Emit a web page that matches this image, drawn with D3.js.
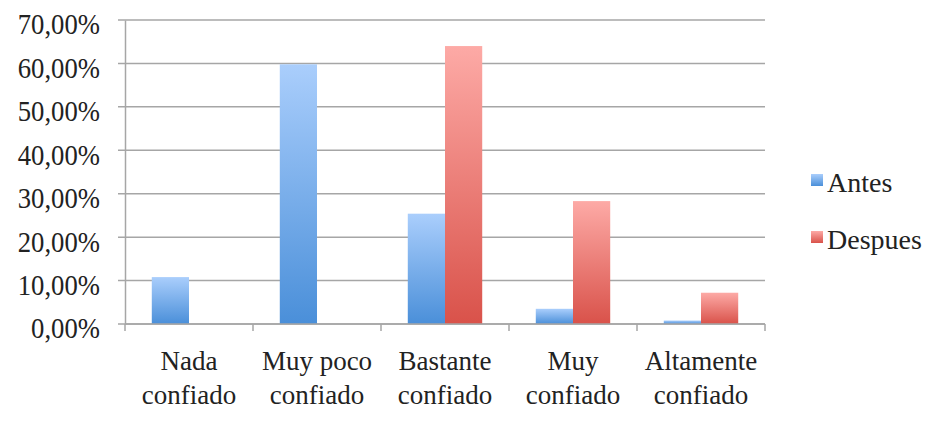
<!DOCTYPE html>
<html>
<head>
<meta charset="utf-8">
<script src="https://cdn.jsdelivr.net/npm/d3@7"></script>
<style>
  body { margin: 0; background: #fff; }
  text { font-family: "Liberation Serif", serif; fill: #222; }
</style>
</head>
<body>
<div id="chart"></div>
<script>
// data
var categories = [["Nada", "confiado"], ["Muy poco", "confiado"], ["Bastante", "confiado"], ["Muy", "confiado"], ["Altamente", "confiado"]];
var seriesNames = ["Antes", "Despues"];
var antes = [0.108, 0.598, 0.254, 0.035, 0.008];
var despues = [0, 0, 0.640, 0.283, 0.072];
var yTicks = [0, 0.1, 0.2, 0.3, 0.4, 0.5, 0.6, 0.7];

var W = 942, H = 427;
var mLeft = 125, mRight = 765, mTop = 20, mBottom = 324;
var squeeze = 0.92;   // y labels are a narrow face in the original

var svg = d3.select("#chart").append("svg")
    .attr("width", W)
    .attr("height", H);

var defs = svg.append("defs");
var grads = [
    { id: "gAntes", top: "#aacefc", bot: "#4a8fd9" },
    { id: "gDespues", top: "#fdaaa6", bot: "#d9524a" }
];
grads.forEach(function (g) {
    var lg = defs.append("linearGradient").attr("id", g.id)
        .attr("x1", 0).attr("y1", 0).attr("x2", 0).attr("y2", 1);
    lg.append("stop").attr("offset", "0%").attr("stop-color", g.top);
    lg.append("stop").attr("offset", "100%").attr("stop-color", g.bot);
});

var x = d3.scaleBand()
    .domain(d3.range(categories.length))
    .range([mLeft, mRight])
    .paddingInner(0)
    .paddingOuter(0);

var x1 = d3.scaleBand()
    .domain(seriesNames)
    .range([0, x.bandwidth()])
    .paddingInner(0)
    .paddingOuter(0.72);

var y = d3.scaleLinear()
    .domain([0, 0.7])
    .range([mBottom, mTop]);

var fmt = function (d) { return (d * 100).toFixed(2).replace(".", ",") + "%"; };

// gridlines
svg.append("g")
    .selectAll("line")
    .data(yTicks)
    .enter().append("line")
    .attr("x1", mLeft - 7)
    .attr("x2", mRight)
    .attr("y1", function (d) { return y(d); })
    .attr("y2", function (d) { return y(d); })
    .attr("stroke", "#a6a6a6")
    .attr("stroke-width", 1.5);

// y axis
var yAxis = d3.axisLeft(y).tickValues(yTicks).tickFormat(fmt).tickSize(0);
var gy = svg.append("g").attr("transform", "translate(" + mLeft + ",0)").call(yAxis);
gy.select(".domain").attr("stroke", "#a6a6a6").attr("stroke-width", 1.5);
gy.selectAll("text")
    .style("font-size", "29px")
    .style("font-family", "Liberation Serif")
    .attr("fill", "#222")
    .attr("x", -25 / squeeze)
    .attr("dy", "0.48em")
    .attr("transform", "scale(" + squeeze + ",1)");

// bars
var data = [antes, despues];
var groups = svg.append("g").selectAll("g")
    .data(categories)
    .enter().append("g")
    .attr("transform", function (d, i) { return "translate(" + x(i) + ",0)"; });

groups.selectAll("rect")
    .data(function (d, i) { return seriesNames.map(function (s, k) { return { s: s, v: data[k][i] }; }); })
    .enter().append("rect")
    .filter(function (d) { return d.v > 0; })
    .attr("x", function (d) { return x1(d.s); })
    .attr("width", x1.bandwidth())
    .attr("y", function (d) { return y(d.v); })
    .attr("height", function (d) { return y(0) - y(d.v); })
    .attr("fill", function (d) { return d.s === "Antes" ? "url(#gAntes)" : "url(#gDespues)"; });

// x axis
var xTicks = d3.range(categories.length + 1).map(function (i) { return mLeft + i * x.bandwidth(); });
svg.append("line")
    .attr("x1", mLeft).attr("x2", mRight)
    .attr("y1", mBottom).attr("y2", mBottom)
    .attr("stroke", "#a6a6a6").attr("stroke-width", 1.5);
svg.append("g").selectAll("line")
    .data(xTicks)
    .enter().append("line")
    .attr("x1", function (d) { return d; }).attr("x2", function (d) { return d; })
    .attr("y1", mBottom).attr("y2", mBottom + 7)
    .attr("stroke", "#a6a6a6").attr("stroke-width", 1.5);

var labels = svg.append("g").selectAll("text")
    .data(categories)
    .enter().append("text")
    .attr("text-anchor", "middle")
    .style("font-size", "27px");
labels.each(function (d, i) {
    var t = d3.select(this);
    d.forEach(function (line, j) {
        t.append("tspan")
            .attr("x", x(i) + x.bandwidth() / 2)
            .attr("y", 370 + j * 34)
            .text(line);
    });
});

// legend
var legend = svg.append("g").selectAll("g")
    .data(seriesNames)
    .enter().append("g")
    .attr("transform", function (d, i) { return "translate(811," + (174 + i * 57) + ")"; });
legend.append("rect")
    .attr("width", 12).attr("height", 12)
    .attr("fill", function (d) { return d === "Antes" ? "url(#gAntes)" : "url(#gDespues)"; });
legend.append("text")
    .attr("x", 16).attr("y", 18)
    .style("font-size", "28px")
    .text(function (d) { return d; });
</script>
</body>
</html>
